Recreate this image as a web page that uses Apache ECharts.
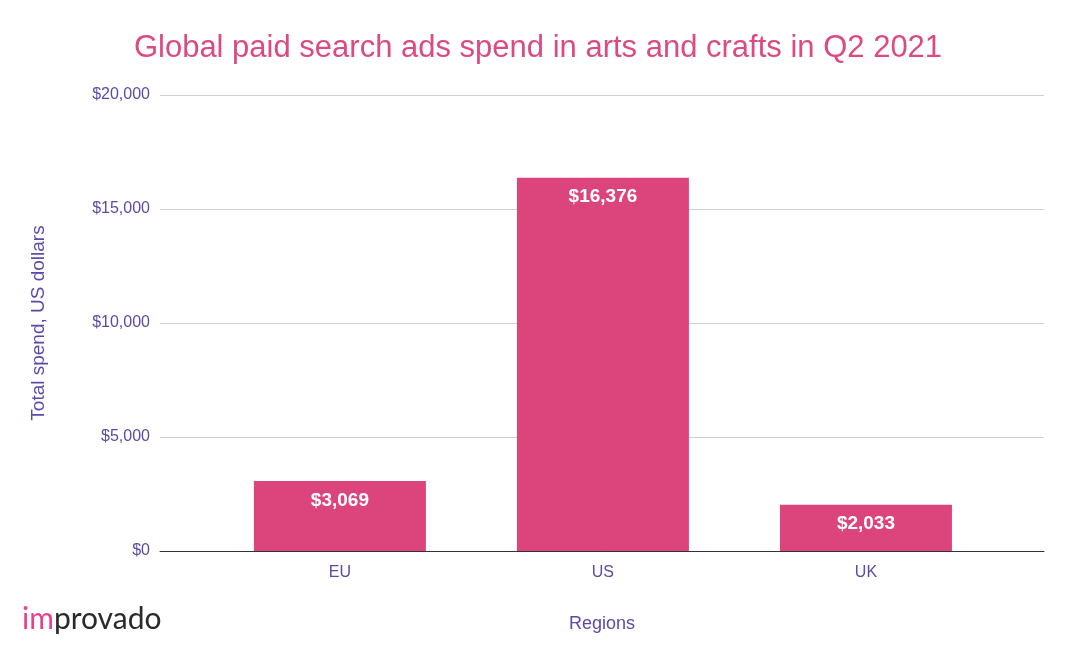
<!DOCTYPE html>
<html><head><meta charset="utf-8">
<script src="https://cdn.jsdelivr.net/npm/echarts@6/dist/echarts.min.js"></script>
<style>html,body{margin:0;padding:0;background:#fff}#c{width:1076px;height:664px}</style>
</head><body><div id="c"></div>
<script>
const categories = ["EU", "US", "UK"];
const spend = [3069, 16376, 2033];
const yTicks = [0, 5000, 10000, 15000, 20000];

const chart = echarts.init(document.getElementById('c'));
const fmt = v => '$' + v.toLocaleString('en-US');
const F = '"Liberation Sans", Arial, sans-serif';
chart.setOption({
  animation: false,
  textStyle: { fontFamily: F },
  title: { text: 'Global paid search ads spend in arts and crafts in Q2 2021', left: 'center', top: 28,
    textStyle: { color: '#dc4a83', fontSize: 31, fontWeight: 'normal', fontFamily: F } },
  graphic: [{ type: 'text', left: 22, top: 604, style: { rich: {
      a: { fill: '#ec3f8a', fontSize: 30, fontFamily: 'Lato, sans-serif', fontWeight: 'normal' },
      b: { fill: '#2a2a2a', fontSize: 30, fontFamily: 'Lato, sans-serif', fontWeight: 'normal' } },
    text: '{a|im}{b|provado}' } }],
  grid: { left: 160, right: 32, top: 95, bottom: 113 },
  xAxis: { type: 'value', min: -0.684, max: 2.677, name: 'Regions', nameLocation: 'middle', nameGap: 64,
    nameTextStyle: { color: '#5b4ba8', fontSize: 18 }, splitLine: { show: false },
    axisLine: { show: true, onZero: false, lineStyle: { color: '#333' } }, axisTick: { show: false },
    axisLabel: { color: '#5b4ba8', fontSize: 16, margin: 14, customValues: [0, 1, 2], formatter: v => categories[Math.round(v)] } },
  yAxis: { type: 'value', min: yTicks[0], max: yTicks[yTicks.length-1], interval: 5000,
    name: 'Total spend, US dollars', nameLocation: 'middle', nameGap: 112,
    nameTextStyle: { color: '#5b4ba8', fontSize: 19 },
    axisLine: { show: false }, axisTick: { show: false },
    axisLabel: { color: '#5b4ba8', fontSize: 16, formatter: fmt, margin: 10 },
    splitLine: { lineStyle: { color: '#d0d0d0' } } },
  series: [{ type: 'bar', data: spend.map((v, i) => [i, v]), barWidth: 172,
    itemStyle: { color: '#dc457c' },
    label: { show: true, position: 'insideTop', distance: 10, color: '#fff', fontSize: 19, fontWeight: 'bold', formatter: p => fmt(p.value[1]) } }]
});
</script></body></html>
